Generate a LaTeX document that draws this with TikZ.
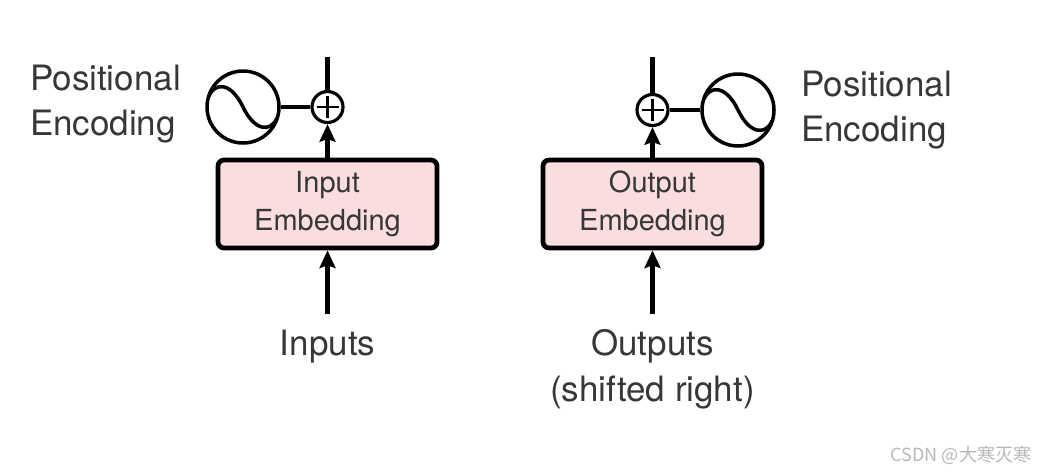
\documentclass[tikz,border=0pt]{standalone}
\usepackage{fontspec}
\setmainfont{TeX Gyre Heros}
\newfontfamily\cjkfont{Noto Sans CJK SC}
\usetikzlibrary{arrows.meta}
\definecolor{embedpink}{RGB}{250,221,222}
\definecolor{txtgray}{RGB}{55,55,55}
\tikzset{
  embed/.style={draw, rounded corners=0.12cm, line width=2.7pt, fill=embedpink,
    minimum width=4.38cm, minimum height=1.76cm, align=center, text=txtgray,
    font=\fontsize{16.5}{21.6}\selectfont},
  addnode/.style={circle, draw, line width=1.8pt, minimum size=0.62cm, inner sep=0pt,
    path picture={
      \draw[line width=1.6pt] ([xshift=-0.22cm]path picture bounding box.center) -- ++(0.44cm,0);
      \draw[line width=1.6pt] ([yshift=-0.22cm]path picture bounding box.center) -- ++(0,0.44cm);}},
  posenc/.style={circle, draw, line width=2pt, minimum size=1.44cm, inner sep=0pt,
    path picture={
      \draw[line width=2pt, shift={(path picture bounding box.center)}]
        (-0.68cm,0.22cm) .. controls (-0.56cm,0.5cm) and (-0.24cm,0.5cm) .. (0cm,0cm)
        .. controls (0.24cm,-0.5cm) and (0.56cm,-0.5cm) .. (0.68cm,-0.22cm);}},
  lbl/.style={text=txtgray, font=\fontsize{19.9}{26}\selectfont, align=center},
  arr/.style={line width=2.6pt, -{Stealth[length=10pt,width=9pt,inset=1.5pt]}},
  wire/.style={line width=2.5pt}
}
\begin{document}
\begin{tikzpicture}[x=0.02cm, y=-0.02cm]
  \useasboundingbox (0,0) rectangle (1040,474);

  % encoder side
  \node (inbox) at (327.5,204) [embed] {Input\\Embedding};
  \node (inadd) at (327.5,107) [addnode] {};
  \node (inpe) at (243,107) [posenc] {};
  \node (inpelbl) at (187,104) [lbl, anchor=east, align=left] {Positional\\Encoding};
  \node (inlbl) at (327.5,347) [lbl] {Inputs};
  \coordinate (intop) at (327.5,57);
  \coordinate (inbot) at (327.5,314);
  \draw[arr] (inbot) -- (inbox.south);
  \draw[arr] (inbox.north) -- (inadd.south);
  \draw[wire] (inadd.north) -- (intop);
  \draw[wire] (inpe.east) -- (inadd.west);

  % decoder side
  \node (outbox) at (652.5,204) [embed] {Output\\Embedding};
  \node (outadd) at (652.5,110) [addnode] {};
  \node (outpe) at (738,110) [posenc] {};
  \node (outpelbl) at (795,110) [lbl, anchor=west, align=left] {Positional\\Encoding};
  \node (outlbl) at (652.5,369) [lbl] {Outputs\\(shifted right)};
  \coordinate (outtop) at (652.5,57);
  \coordinate (outbot) at (652.5,314);
  \draw[arr] (outbot) -- (outbox.south);
  \draw[arr] (outbox.north) -- (outadd.south);
  \draw[wire] (outadd.north) -- (outtop);
  \draw[wire] (outadd.east) -- (outpe.west);

  \node (mark) at (961,455) [text=black!28, font=\cjkfont\fontsize{10.3}{11}\selectfont] {CSDN @大寒灭寒};
\end{tikzpicture}
\end{document}
